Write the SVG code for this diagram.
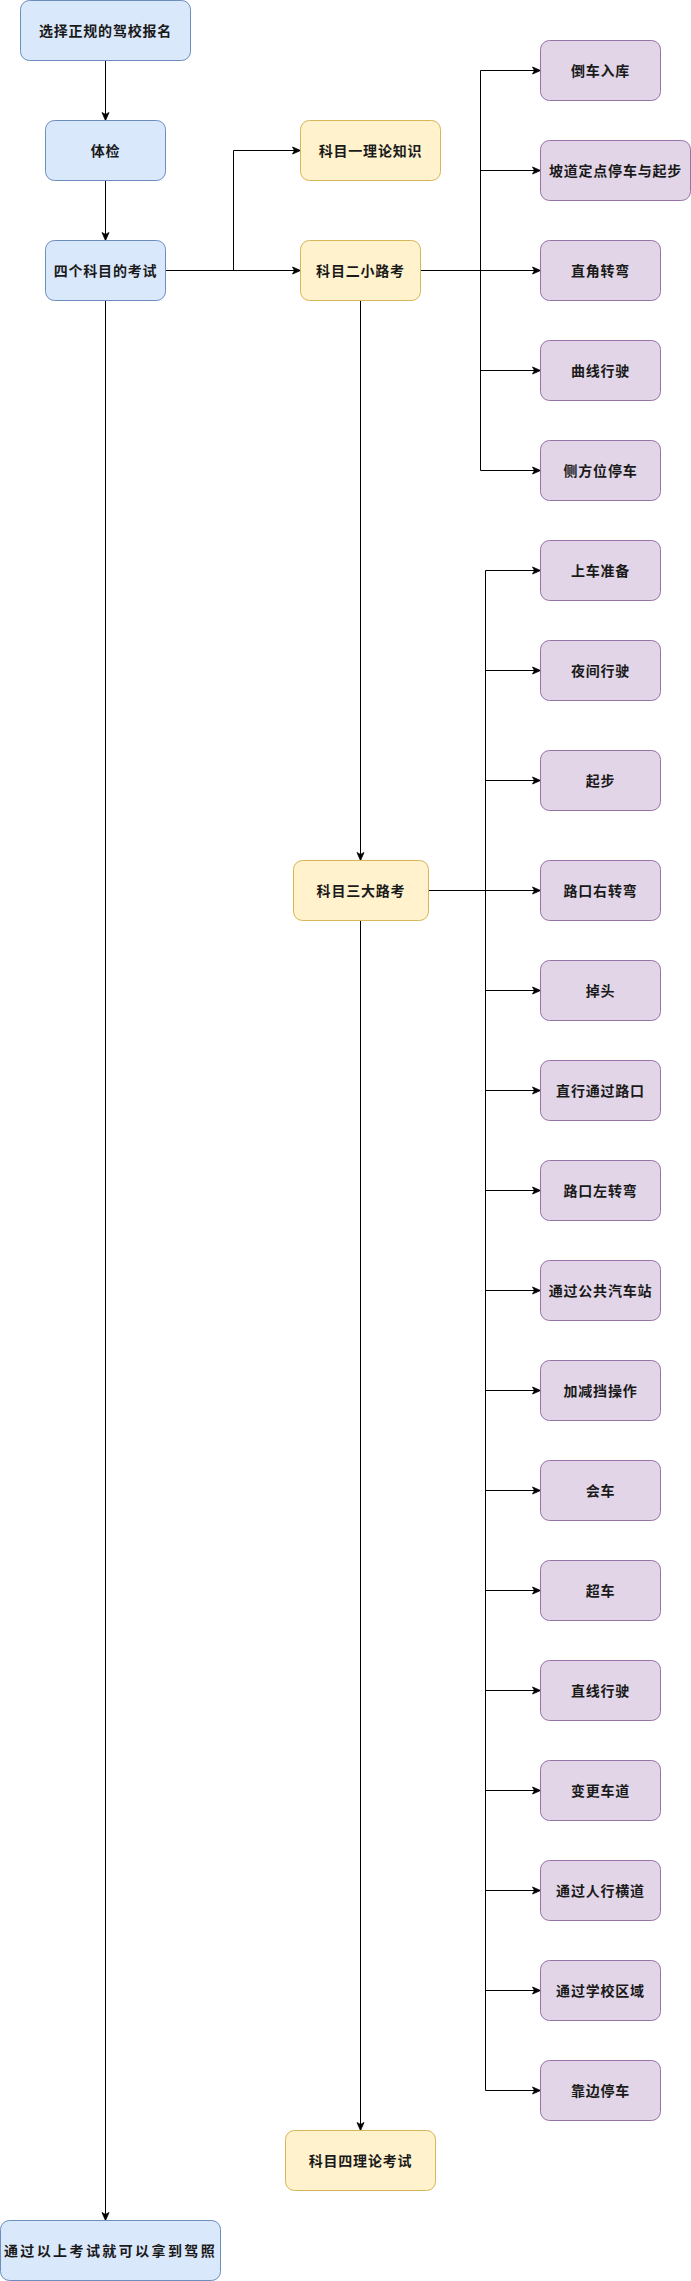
<svg xmlns="http://www.w3.org/2000/svg" width="691" height="2281" viewBox="0 0 691 2281">
<style>
.b{fill:#dae8fc;stroke:#6c8ebf;stroke-width:1}
.y{fill:#fff2cc;stroke:#d6b656;stroke-width:1}
.p{fill:#e1d5e7;stroke:#9673a6;stroke-width:1}
text{font-family:"Liberation Sans","Noto Sans CJK SC",sans-serif;font-size:14px;font-weight:bold;fill:#1a1a1a;text-anchor:middle;dominant-baseline:central;letter-spacing:0.8px}
.c path{fill:none;stroke:#000;stroke-width:1;marker-end:url(#a)}
</style>
<defs>
<marker id="a" markerUnits="userSpaceOnUse" markerWidth="10" markerHeight="10" viewBox="0 0 10 10" refX="9" refY="5" orient="auto">
<path d="M1,1.5 L9,5 L1,8.5 L3,5 z" fill="#000" stroke="#000" stroke-width="0.8"/>
</marker>
</defs>
<g class="c" id="connectors">
<path d="M105.5,60.5 V120.5"/>
<path d="M105.5,180.5 V240.5"/>
<path d="M165.5,270.5 H233.5 V150.5 H300.5"/>
<path d="M165.5,270.5 H300.5"/>
<path d="M105.5,300.5 V2220.5"/>
<path d="M420.5,270.5 H480.5 V70.5 H540.5"/>
<path d="M420.5,270.5 H480.5 V170.5 H540.5"/>
<path d="M420.5,270.5 H540.5"/>
<path d="M420.5,270.5 H480.5 V370.5 H540.5"/>
<path d="M420.5,270.5 H480.5 V470.5 H540.5"/>
<path d="M360.5,300.5 V860.5"/>
<path d="M360.5,920.5 V2130.5"/>
<path d="M428.5,890.5 H485.5 V570.5 H540.5"/>
<path d="M428.5,890.5 H485.5 V670.5 H540.5"/>
<path d="M428.5,890.5 H485.5 V780.5 H540.5"/>
<path d="M428.5,890.5 H540.5"/>
<path d="M428.5,890.5 H485.5 V990.5 H540.5"/>
<path d="M428.5,890.5 H485.5 V1090.5 H540.5"/>
<path d="M428.5,890.5 H485.5 V1190.5 H540.5"/>
<path d="M428.5,890.5 H485.5 V1290.5 H540.5"/>
<path d="M428.5,890.5 H485.5 V1390.5 H540.5"/>
<path d="M428.5,890.5 H485.5 V1490.5 H540.5"/>
<path d="M428.5,890.5 H485.5 V1590.5 H540.5"/>
<path d="M428.5,890.5 H485.5 V1690.5 H540.5"/>
<path d="M428.5,890.5 H485.5 V1790.5 H540.5"/>
<path d="M428.5,890.5 H485.5 V1890.5 H540.5"/>
<path d="M428.5,890.5 H485.5 V1990.5 H540.5"/>
<path d="M428.5,890.5 H485.5 V2090.5 H540.5"/>
</g>
<g id="n1"><rect class="b" x="20.5" y="0.5" width="170" height="60" rx="9"/><text x="105.5" y="31">选择正规的驾校报名</text></g>
<g id="n2"><rect class="b" x="45.5" y="120.5" width="120" height="60" rx="9"/><text x="105.5" y="151">体检</text></g>
<g id="n3"><rect class="b" x="45.5" y="240.5" width="120" height="60" rx="9"/><text x="105.5" y="271">四个科目的考试</text></g>
<g id="n4"><rect class="y" x="300.5" y="120.5" width="140" height="60" rx="9"/><text x="370.5" y="151">科目一理论知识</text></g>
<g id="n5"><rect class="y" x="300.5" y="240.5" width="120" height="60" rx="9"/><text x="360.5" y="271">科目二小路考</text></g>
<g id="n6"><rect class="p" x="540.5" y="40.5" width="120" height="60" rx="9"/><text x="600.5" y="71">倒车入库</text></g>
<g id="n7"><rect class="p" x="540.5" y="140.5" width="150" height="60" rx="9"/><text x="615.5" y="171">坡道定点停车与起步</text></g>
<g id="n8"><rect class="p" x="540.5" y="240.5" width="120" height="60" rx="9"/><text x="600.5" y="271">直角转弯</text></g>
<g id="n9"><rect class="p" x="540.5" y="340.5" width="120" height="60" rx="9"/><text x="600.5" y="371">曲线行驶</text></g>
<g id="n10"><rect class="p" x="540.5" y="440.5" width="120" height="60" rx="9"/><text x="600.5" y="471">侧方位停车</text></g>
<g id="n11"><rect class="y" x="293.5" y="860.5" width="135" height="60" rx="9"/><text x="361" y="891">科目三大路考</text></g>
<g id="n12"><rect class="p" x="540.5" y="540.5" width="120" height="60" rx="9"/><text x="600.5" y="571">上车准备</text></g>
<g id="n13"><rect class="p" x="540.5" y="640.5" width="120" height="60" rx="9"/><text x="600.5" y="671">夜间行驶</text></g>
<g id="n14"><rect class="p" x="540.5" y="750.5" width="120" height="60" rx="9"/><text x="600.5" y="781">起步</text></g>
<g id="n15"><rect class="p" x="540.5" y="860.5" width="120" height="60" rx="9"/><text x="600.5" y="891">路口右转弯</text></g>
<g id="n16"><rect class="p" x="540.5" y="960.5" width="120" height="60" rx="9"/><text x="600.5" y="991">掉头</text></g>
<g id="n17"><rect class="p" x="540.5" y="1060.5" width="120" height="60" rx="9"/><text x="600.5" y="1091">直行通过路口</text></g>
<g id="n18"><rect class="p" x="540.5" y="1160.5" width="120" height="60" rx="9"/><text x="600.5" y="1191">路口左转弯</text></g>
<g id="n19"><rect class="p" x="540.5" y="1260.5" width="120" height="60" rx="9"/><text x="600.5" y="1291">通过公共汽车站</text></g>
<g id="n20"><rect class="p" x="540.5" y="1360.5" width="120" height="60" rx="9"/><text x="600.5" y="1391">加减挡操作</text></g>
<g id="n21"><rect class="p" x="540.5" y="1460.5" width="120" height="60" rx="9"/><text x="600.5" y="1491">会车</text></g>
<g id="n22"><rect class="p" x="540.5" y="1560.5" width="120" height="60" rx="9"/><text x="600.5" y="1591">超车</text></g>
<g id="n23"><rect class="p" x="540.5" y="1660.5" width="120" height="60" rx="9"/><text x="600.5" y="1691">直线行驶</text></g>
<g id="n24"><rect class="p" x="540.5" y="1760.5" width="120" height="60" rx="9"/><text x="600.5" y="1791">变更车道</text></g>
<g id="n25"><rect class="p" x="540.5" y="1860.5" width="120" height="60" rx="9"/><text x="600.5" y="1891">通过人行横道</text></g>
<g id="n26"><rect class="p" x="540.5" y="1960.5" width="120" height="60" rx="9"/><text x="600.5" y="1991">通过学校区域</text></g>
<g id="n27"><rect class="p" x="540.5" y="2060.5" width="120" height="60" rx="9"/><text x="600.5" y="2091">靠边停车</text></g>
<g id="n28"><rect class="y" x="285.5" y="2130.5" width="150" height="60" rx="9"/><text x="360.5" y="2161">科目四理论考试</text></g>
<g id="n29"><rect class="b" x="0.5" y="2220.5" width="220" height="60" rx="9"/><text x="110.5" y="2251" style="letter-spacing:2.4px">通过以上考试就可以拿到驾照</text></g>
</svg>
